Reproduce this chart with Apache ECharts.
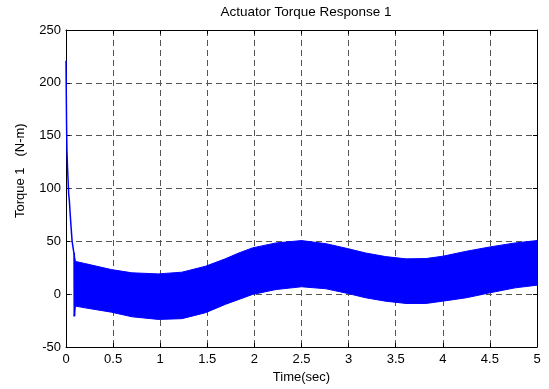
<!DOCTYPE html>
<html>
<head>
<meta charset="utf-8">
<script src="https://cdn.jsdelivr.net/npm/echarts@6/dist/echarts.min.js"></script>
<style>html,body{margin:0;padding:0;background:#fff}#c{width:549px;height:389px}</style>
</head>
<body>
<div id="c"></div>
<script>
// Initial transient (time in s, torque in N-m)
var transientT = [0, 0.003, 0.006, 0.01, 0.016, 0.022, 0.028, 0.036, 0.045, 0.055, 0.065, 0.075, 0.082, 0.088, 0.092, 0.095];
var transientV = [221, 190, 160, 136, 120, 108, 95, 88, 75, 62, 50, 44, 40, 38, -21, 30];
// Oscillation band envelopes
var bandT     = [0.085, 0.1, 0.2, 0.48, 0.7, 0.98, 1.23, 1.48, 1.69, 1.835, 1.98, 2.23, 2.5, 2.76, 2.99, 3.18, 3.39, 3.61, 3.82, 4.0, 4.25, 4.5, 4.77, 5.0];
var bandUpper = [39, 31, 29, 23.3, 20.2, 19.2, 20.8, 26.4, 33.4, 39, 43.8, 48.5, 50.7, 47.8, 43.1, 39, 35.6, 33.4, 33.7, 35.9, 40.6, 44.7, 48.5, 50.7];
var bandLower = [-21, -11.3, -12.9, -17, -21.4, -23.9, -23.2, -17.6, -9.7, -5, -0.3, 4.4, 7, 5.1, 0.7, -3.4, -6.6, -8.8, -8.8, -6.6, -3.4, 1.3, 6, 8.5];
var xTicks = [0, 0.5, 1, 1.5, 2, 2.5, 3, 3.5, 4, 4.5, 5];
var yTicks = [-50, 0, 50, 100, 150, 200, 250];

var FONT = 'Liberation Sans';
var chart = echarts.init(document.getElementById('c'));
var gridLine = {show: true, lineStyle: {color: '#555', type: [6, 4], width: 1}};
var axisBase = {
  axisLine: {show: true, onZero: false, lineStyle: {color: '#000', width: 1}},
  axisTick: {show: true, inside: true, length: 4, lineStyle: {color: '#000'}},
};
var transientData = transientT.map(function (t, i) { return [t, transientV[i]]; });

chart.setOption({
  animation: false,
  title: {
    text: 'Actuator Torque Response 1',
    left: 301, top: 0, textAlign: 'center',
    textStyle: {fontFamily: FONT, fontSize: 13.5, fontWeight: 'normal', color: '#000'}
  },
  grid: {left: 66, right: 12, top: 30, bottom: 41},
  xAxis: [
    Object.assign({}, axisBase, {
      type: 'value', min: 0, max: 5, interval: 0.5, position: 'bottom',
      splitLine: gridLine,
      axisLabel: {fontFamily: FONT, fontSize: 13, color: '#000', margin: 6,
        formatter: function (v) { return String(+v.toFixed(1)); }},
      name: 'Time(sec)', nameLocation: 'middle', nameGap: 24,
      nameTextStyle: {fontFamily: FONT, fontSize: 13, color: '#000'}
    }),
    Object.assign({}, axisBase, {
      type: 'value', min: 0, max: 5, interval: 0.5, position: 'top',
      splitLine: {show: false}, axisLabel: {show: false}
    })
  ],
  yAxis: [
    Object.assign({}, axisBase, {
      type: 'value', min: -50, max: 250, interval: 50, position: 'left',
      splitLine: gridLine,
      axisLabel: {fontFamily: FONT, fontSize: 13, color: '#000', margin: 5}
    }),
    Object.assign({}, axisBase, {
      type: 'value', min: -50, max: 250, interval: 50, position: 'right',
      splitLine: {show: false}, axisLabel: {show: false}
    })
  ],
  graphic: [{
    type: 'text', rotation: Math.PI / 2,
    style: {text: 'Torque 1   (N-m)', fontFamily: FONT, fontSize: 13, fill: '#000'},
    position: [14, 218], origin: [0, 0]
  }],
  series: [
    {
      type: 'custom', xAxisIndex: 0, yAxisIndex: 0,
      data: [[0]],
      renderItem: function (params, api) {
        var pts = [];
        for (var i = 0; i < bandT.length; i++) pts.push(api.coord([bandT[i], bandUpper[i]]));
        for (var j = bandT.length - 1; j >= 0; j--) pts.push(api.coord([bandT[j], bandLower[j]]));
        return {type: 'polygon', shape: {points: pts}, style: {fill: '#0000ff', stroke: '#0000ff', lineWidth: 1}};
      },
      z: 3
    },
    {
      type: 'line', xAxisIndex: 0, yAxisIndex: 0,
      data: transientData, showSymbol: false,
      lineStyle: {color: '#0000ff', width: 1.5}, z: 4
    }
  ]
});
</script>
</body>
</html>
